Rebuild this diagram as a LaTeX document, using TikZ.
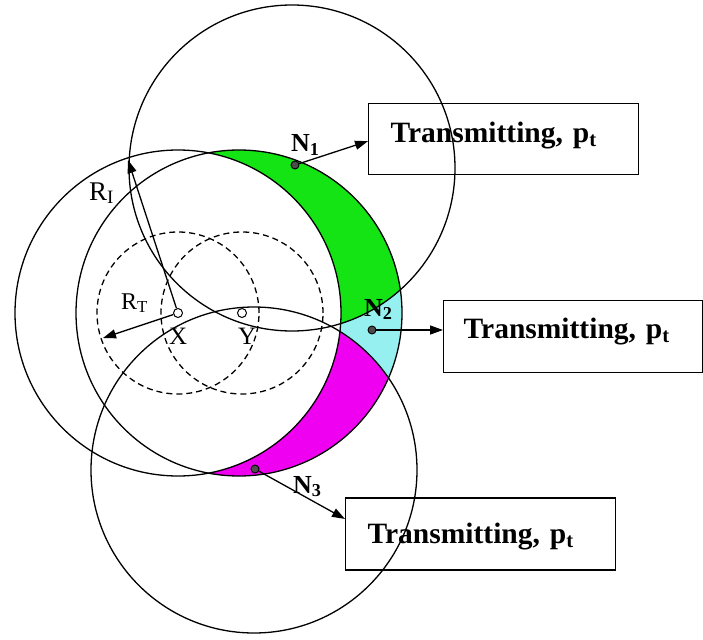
\documentclass[tikz,border=0pt]{standalone}
\usepackage{fontspec}
\setmainfont{Liberation Serif}
\usetikzlibrary{arrows.meta}
\definecolor{bandgreen}{RGB}{20,228,20}
\definecolor{bandcyan}{RGB}{150,240,240}
\definecolor{bandmag}{RGB}{240,0,240}
\tikzset{
  ring/.style={line width=1.3pt},
  dring/.style={line width=1.3pt, dash pattern=on 6pt off 4pt},
  arr/.style={line width=1.3pt, -{Triangle[length=13pt,width=9pt]}},
  hollow/.style={circle, draw, line width=1pt, fill=white, minimum size=9pt, inner sep=0pt},
  ndot/.style={circle, draw=black, fill=black!70, line width=0.9pt, minimum size=8pt, inner sep=0pt},
  box/.style={draw, line width=1.3pt, inner ysep=0pt, align=left, anchor=north west,
    font=\fontsize{29.5}{30}\selectfont\bfseries},
  lbl/.style={inner sep=0pt, anchor=base west},
  rlbl/.style={lbl, font=\fontsize{27}{28}\selectfont},
  nlbl/.style={lbl, font=\fontsize{26}{27}\selectfont\bfseries},
}
\begin{document}
\begin{tikzpicture}[x=1pt,y=-1pt]
\useasboundingbox (0,0) rectangle (703,639);
% positions
\coordinate (pX) at (178,313);
\coordinate (pY) at (242,313);
\coordinate (cY) at (239,313);
\coordinate (pN1) at (292,168);
\coordinate (pN2) at (372,330);
\coordinate (pN3) at (254,470);
% coloured band
\begin{scope}
  \clip (cY) circle[radius=163pt];
  \fill[bandcyan] (cY) circle[radius=163pt];
  \fill[bandgreen] (pN1) circle[radius=163pt];
  \fill[bandmag] (pN3) circle[radius=163pt];
  \fill[white] (pX) circle[radius=163pt];
\end{scope}
% range circles
\draw[ring] (pX) circle[radius=163pt];
\draw[ring] (cY) circle[radius=163pt];
\draw[ring] (pN1) circle[radius=163pt];
\draw[ring] (pN3) circle[radius=163pt];
\draw[dring] (pX) circle[radius=81pt];
\draw[dring] (pY) circle[radius=81pt];
% boxes
\node[box, inner xsep=22pt, text width=226pt, text height=38.7pt, text depth=32.3pt] (B1) at (368,103) {Transmitting, p\textsubscript{t}};
\node[box, inner xsep=20pt, text width=219pt, text height=38pt, text depth=34pt] (B2) at (443,300) {Transmitting, p\textsubscript{t}};
\node[box, inner xsep=22pt, text width=226pt, text height=46pt, text depth=26pt] (B3) at (345,497.3) {Transmitting, p\textsubscript{t}};
% radius arrows
\coordinate (RI) at (128,160);
\coordinate (RT) at (103,338);
\node[hollow] (X) at (pX) {};
\node[hollow] (Y) at (pY) {};
\draw[arr] (X) -- (RI);
\draw[arr] (X) -- (RT);
% nodes
\node[ndot] (N1) at (295,165) {};
\node[ndot] (N2) at (pN2) {};
\node[ndot] (N3) at (255,469) {};
\draw[arr] (N1) -- ([yshift=-2pt]B1.west);
\draw[arr] (N2) -- (N2 -| B2.west);
\draw[arr] (N3) -- ([yshift=15pt]B3.west);
% labels
\node[rlbl] (lRI) at (89,200) {R\textsubscript{I}};
\node[rlbl, font=\fontsize{24}{25}\selectfont] (lRT) at (121,309) {R\textsubscript{T}};
\node[lbl, font=\fontsize{25}{26}\selectfont] (lX) at (169,344) {X};
\node[lbl, font=\fontsize{25}{26}\selectfont] (lY) at (238,344) {Y};
\node[nlbl] (lN1) at (291,152) {N\textsubscript{1}};
\node[nlbl] (lN2) at (364,316) {N\textsubscript{2}};
\node[nlbl] (lN3) at (293,493) {N\textsubscript{3}};
\end{tikzpicture}
\end{document}
